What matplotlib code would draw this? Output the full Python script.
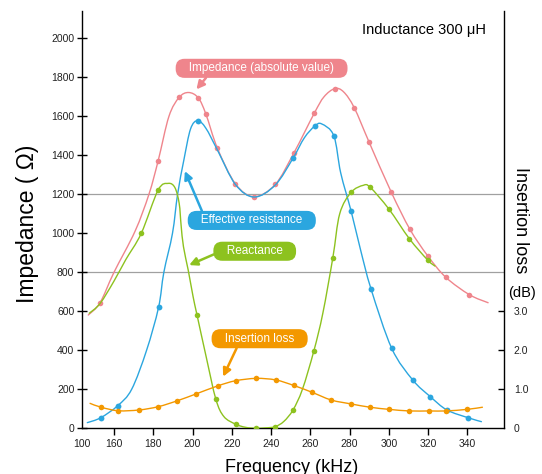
import numpy as np
import matplotlib
matplotlib.use("Agg")
import matplotlib.pyplot as plt
from matplotlib.path import Path
from matplotlib.patches import PathPatch

plt.rcParams['font.family'] = ['Liberation Sans', 'DejaVu Sans']

# Colores de las series
c_imp = '#EF858C'
c_res = '#2BA6DF'
c_rea = '#8DC21F'
c_ins = '#F39800'

# Impedancia (valor absoluto) - puntos marcados (kHz, ohm)
imp_f = [152.9, 182.5, 193.2, 202.9, 206.8, 212.7, 221.9, 231.4, 242.2, 251.7,
         262.0, 272.5, 282.4, 290.0, 301.3, 310.8, 319.8, 329.1, 341.1]
imp_v = [644, 1372, 1697, 1695, 1612, 1436, 1253, 1188, 1251, 1413,
         1615, 1742, 1644, 1467, 1210, 1020, 885, 774, 685]
# trazo de la curva
imp_cf = [146.9, 152.9, 160.0, 170.7, 177.8, 182.5, 188.0, 193.2, 198.0, 202.9, 206.8,
          212.7, 221.9, 231.4, 242.2, 251.7, 262.0, 267.0, 272.5, 277.0, 282.4, 290.0,
          301.3, 310.8, 319.8, 329.1, 341.1, 350.6]
imp_cv = [581, 644, 800, 1010, 1200, 1372, 1600, 1697, 1722, 1695, 1612,
          1436, 1253, 1188, 1251, 1413, 1615, 1700, 1742, 1725, 1644, 1467,
          1210, 1020, 885, 774, 685, 644]

# Resistencia efectiva
res_f = [153.2, 161.9, 182.7, 202.6, 251.2, 262.3, 272.0, 280.8, 291.0, 301.5,
         312.2, 321.2, 329.6, 340.5]
res_v = [54, 116, 620, 1576, 1385, 1550, 1500, 1114, 713, 410,
         248, 162, 94, 54]
res_cf = [146.4, 153.2, 161.9, 169.0, 176.6, 182.7, 185.4, 189.8, 192.4, 195.6, 199.0,
          202.6, 206.8, 212.7, 221.9, 231.5, 242.2, 251.2, 257.0, 262.3, 265.8, 272.0,
          275.5, 280.8, 285.5, 291.0, 301.5, 312.2, 321.2, 329.6, 340.5, 347.2]
res_cv = [29, 54, 116, 200, 400, 620, 800, 1000, 1200, 1376, 1535,
          1578, 1539, 1427, 1250, 1186, 1248, 1385, 1490, 1550, 1561, 1500,
          1310, 1114, 920, 713, 410, 248, 162, 94, 54, 34]

# Reactancia
rea_f = [173.9, 182.5, 202.3, 211.9, 222.0, 232.2, 242.0, 251.2, 261.8, 271.5,
         280.8, 290.5, 300.0, 310.5, 319.8]
rea_v = [1000, 1222, 581, 149, 21, 0, 8, 94, 396, 875,
         1210, 1236, 1125, 972, 863]
rea_cf = [147.4, 152.9, 160.0, 166.0, 173.9, 182.5, 187.6, 191.0, 193.2, 194.2, 195.4,
          197.8, 200.3, 202.3, 207.0, 211.9, 216.0, 222.0, 227.0, 232.2, 237.0, 242.0,
          246.5, 251.2, 256.0, 261.8, 266.4, 271.5, 275.0, 280.8, 287.0, 290.5, 300.0,
          310.5, 319.8, 323.5]
rea_cv = [590, 640, 755, 865, 1000, 1222, 1256, 1235, 1154, 1040, 931,
          812, 675, 581, 365, 149, 60, 21, 5, 0, 2, 8,
          35, 94, 200, 396, 590, 875, 1100, 1210, 1246, 1236, 1125,
          972, 863, 832]

# Pérdida de inserción (dB)
ins_f = [153.4, 162.2, 172.8, 182.6, 192.2, 202.0, 213.0, 222.0, 232.5, 242.4,
         251.5, 260.8, 270.7, 280.8, 290.5, 300.3, 310.5, 320.7, 329.1, 339.8]
ins_v = [0.54, 0.45, 0.47, 0.555, 0.705, 0.885, 1.09, 1.22, 1.28, 1.24,
         1.10, 0.925, 0.725, 0.625, 0.54, 0.485, 0.445, 0.445, 0.445, 0.485]
ins_cf = [147.8] + ins_f + [347.7]
ins_cv = [0.64] + ins_v + [0.54]

x_ticks = [160, 180, 200, 220, 240, 260, 280, 300, 320, 340]
y_ticks = [0, 200, 400, 600, 800, 1000, 1200, 1400, 1600, 1800, 2000]
db_ticks = [0, 1, 2, 3]
db_labels = ['0', '1.0', '2.0', '3.0']

x_min, x_max = 143.7, 358.7
y_max = 2140


def curva(ax, xs, ys, color, lw=1.0, z=2):
    # curva suave (Catmull-Rom -> Bezier) a traves de los puntos
    p = np.column_stack([xs, ys]).astype(float)
    n = len(p)
    verts = [p[0]]
    codes = [Path.MOVETO]
    for i in range(n - 1):
        p0 = p[i - 1] if i > 0 else p[i]
        p1, p2 = p[i], p[i + 1]
        p3 = p[i + 2] if i + 2 < n else p[i + 1]
        verts += [p1 + (p2 - p0) / 6, p2 - (p3 - p1) / 6, p2]
        codes += [Path.CURVE4] * 3
    ax.add_patch(PathPatch(Path(verts, codes), fill=False, ec=color, lw=lw,
                           zorder=z, capstyle='round', joinstyle='round'))


fig = plt.figure(figsize=(5.42, 4.74), dpi=100)
ax = fig.add_axes([82 / 542, 1 - 428.3 / 474, 422 / 542, 417.3 / 474])
ax.set_xlim(x_min, x_max)
ax.set_ylim(0, y_max)

ax.axhline(800, color='#a0a0a0', lw=0.9, zorder=0.5)
ax.axhline(1200, color='#a0a0a0', lw=0.9, zorder=0.5)

curva(ax, imp_cf, imp_cv, c_imp, z=2)
ax.plot(imp_f, imp_v, 'o', color=c_imp, ms=4, mec='none', zorder=2.1)
curva(ax, res_cf, res_cv, c_res, z=3)
ax.plot(res_f, res_v, 'o', color=c_res, ms=4.2, mec='none', zorder=3.1)
curva(ax, rea_cf, rea_cv, c_rea, z=4)
ax.plot(rea_f, rea_v, 'o', color=c_rea, ms=4, mec='none', zorder=4.1)

ax.set_xticks([x_min] + x_ticks)
ax.set_xticklabels(['100'] + [str(t) for t in x_ticks])
ax.xaxis.get_major_ticks()[0].tick1line.set_visible(False)
ax.set_yticks(y_ticks)
ax.tick_params(axis='x', direction='out', length=5, width=1, pad=3,
               labelsize=7.5, labelcolor='#222222')
ax.tick_params(axis='y', direction='inout', length=7, width=1, pad=2,
               labelsize=7.5, labelcolor='#222222')
for s in ['top', 'right']:
    ax.spines[s].set_visible(False)
for s in ['left', 'bottom']:
    ax.spines[s].set_linewidth(1.0)

# eje derecho: perdida de insercion
ax2 = ax.twinx()
ax2.set_ylim(0, y_max / 200)
ax2.set_xlim(x_min, x_max)
curva(ax2, ins_cf, ins_cv, c_ins, z=2)
ax2.plot(ins_f, ins_v, 'o', color=c_ins, ms=4, mec='none', zorder=2.1)
ax2.set_yticks(db_ticks)
ax2.set_yticklabels(db_labels)
ax2.yaxis.get_major_ticks()[0].tick2line.set_visible(False)
ax2.tick_params(axis='y', direction='in', length=4, width=1, pad=7,
                labelsize=7.5, labelcolor='#222222')
for s in ['top', 'left', 'bottom']:
    ax2.spines[s].set_visible(False)
ax2.spines['right'].set_linewidth(1.0)

# textos
ax.text(349.5, 2020, 'Inductance 300 μH', ha='right', va='baseline', fontsize=10.5)
fig.text(28 / 542, 1 - 224 / 474, 'Impedance ( Ω)', rotation=90, ha='center',
         va='center', fontsize=16.5)
fig.text(520 / 542, 1 - 220 / 474, 'Insertion loss', rotation=-90, ha='center',
         va='center', fontsize=13)
fig.text(522 / 542, 1 - 293 / 474, '(dB)', ha='center', va='center', fontsize=10.5)
fig.text(291.7 / 542, 1 - 471.5 / 474, 'Frequency (kHz)', ha='center',
         va='baseline', fontsize=13)

# etiquetas con flecha
notas = [
    ('   Impedance (absolute value)   ', c_imp, (202.0, 1738), (235.2, 1846), (0.18, 0.0)),
    ('   Effective resistance   ', c_res, (196.1, 1319), (230.2, 1066), (0.1, 1.0)),
    ('   Reactance   ', c_rea, (198.3, 837), (231.7, 908), (0.0, 0.35)),
    ('   Insertion loss   ', c_ins, (215.6, 265), (234.2, 459.5), (0.26, 0.0)),
]
for txt, col, tip, pos, rp in notas:
    ax.annotate(txt, xy=tip, xytext=pos, ha='center', va='center',
                fontsize=8.5, color='white', zorder=6,
                bbox=dict(boxstyle='round,pad=0.3,rounding_size=0.75',
                          fc=col, ec='none'),
                arrowprops=dict(arrowstyle='-|>,head_length=0.55,head_width=0.28',
                                color=col, lw=1.8, shrinkA=0, shrinkB=0,
                                relpos=rp))

plt.savefig('out.png', dpi=100)
plt.close()
